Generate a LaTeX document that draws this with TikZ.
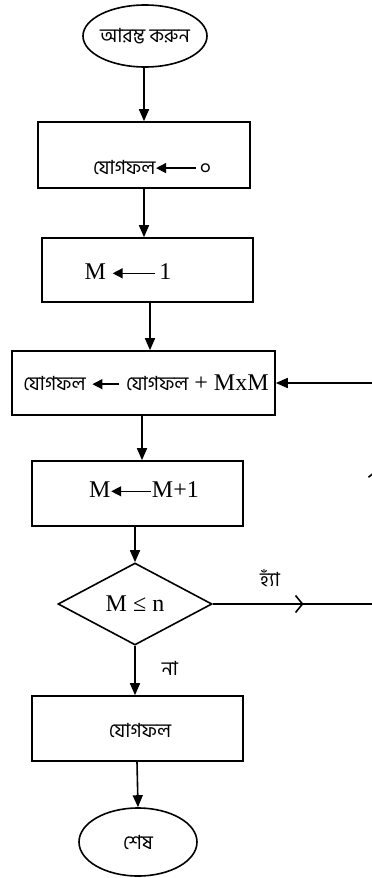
\documentclass[tikz,border=0pt]{standalone}
\usepackage{fontspec}
\setmainfont{Liberation Serif}
\newfontfamily\bn[Script=Bengali]{Hind Siliguri}
\usetikzlibrary{shapes.geometric,arrows.meta,decorations.markings}
\newcommand{\larr}[1]{\tikz[baseline=-0.6ex]\draw[line width=1.4pt,-{Triangle[length=10pt,width=10pt]}] (#1,0) -- (0,0);}
\tikzset{
  box/.style={draw,line width=1.6pt,rectangle,inner sep=0pt},
  term/.style={draw,line width=1.6pt,ellipse,inner sep=0pt},
  txt/.style={inner sep=0pt,font=\fontsize{24}{27}\selectfont},
  btxt/.style={inner sep=0pt,font=\bn\fontsize{19.5}{24}\selectfont},
  arr/.style={line width=1.6pt,-{Triangle[length=12pt,width=10pt]}},
  ln/.style={line width=1.6pt},
  openmid/.style={postaction={decorate},decoration={markings,
     mark=at position #1 with {\arrow[line width=1.6pt]{Straight Barb[length=7pt,width=17pt]}}}}
}
\begin{document}
\begin{tikzpicture}[x=1pt,y=-1pt]
\useasboundingbox (0,0) rectangle (372,878);
\clip (0,0) rectangle (372,878);
% nodes
\node[term,minimum width=124pt,minimum height=62pt] (start) at (145,36) {};
\node[btxt] (tstart) at (145,36) {আরম্ভ করুন};
\node[box,minimum width=212pt,minimum height=66pt] (b1) at (144,155) {};
\node[txt] (t1) at (152,167) {\bn\fontsize{19.5}{24}\selectfont যোগফল\larr{40pt}\hspace{3pt}০};
\node[box,minimum width=211pt,minimum height=64pt] (b2) at (147.5,270) {};
\node[txt] (t2) at (128,272) {M \larr{42pt}\,1};
\node[box,minimum width=263pt,minimum height=64pt] (b3) at (143.5,383) {};
\node[txt] (t3) at (146,383) {{\bn\fontsize{19.5}{24}\selectfont যোগফল} \larr{27pt} {\bn\fontsize{19.5}{24}\selectfont যোগফল} + MxM};
\node[box,minimum width=211pt,minimum height=65pt] (b4) at (137.5,493.5) {};
\node[txt] (t4) at (144,490) {M\larr{40pt}M+1};
\node[draw,line width=1.6pt,diamond,inner sep=0pt,minimum width=154pt,minimum height=82pt] (dia) at (135,604) {};
\node[txt] (tdia) at (135,604) {M ≤ n};
\node[box,minimum width=211pt,minimum height=65pt] (b5) at (137.5,728.5) {};
\node[btxt] (t5) at (140,730) {যোগফল};
\node[term,minimum width=118pt,minimum height=68pt] (stop) at (138,842) {};
\node[btxt] (tstop) at (138,842) {শেষ};
\node[btxt] (yes) at (270,578) {হ্যাঁ};
\node[btxt] (no) at (170,668) {না};
% loop coordinates
\coordinate (r1) at (377,604);
\coordinate (r2) at (377,383);
\coordinate (e1) at (372,604);
\coordinate (e2) at (372,383);
% connectors
\draw[arr] (start.south -| 144,0) -- (b1.north -| 144,0);
\draw[arr] (b1.south -| 144,0) -- (b2.north -| 144,0);
\draw[arr] (b2.south -| 150,0) -- (b3.north -| 150,0);
\draw[arr] (b3.south -| 142,0) -- (b4.north -| 142,0);
\draw[arr] (b4.south -| 135,0) -- (dia.north);
\draw[arr] (dia.south) -- (b5.north -| dia.south);
\draw[arr] (b5.south -| 137,0) -- (stop.north);
\draw[ln,openmid=0.57] (dia.east) -- (e1);
\draw[ln] (e1) -- (r1);
\draw[ln,openmid=0.61] (r1) -- (r2);
\draw[arr] (r2) -- (b3.east);
\end{tikzpicture}
\end{document}
